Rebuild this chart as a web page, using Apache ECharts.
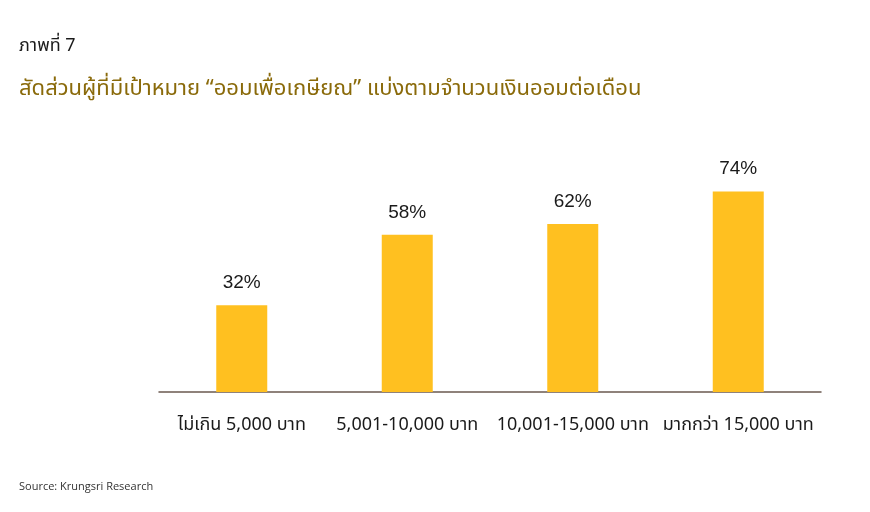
<!DOCTYPE html>
<html>
<head>
<meta charset="utf-8">
<script src="https://cdn.jsdelivr.net/npm/echarts@6/dist/echarts.min.js"></script>
<style>
html,body{margin:0;padding:0;background:#fff;}
#c{width:870px;height:512px;}
</style>
</head>
<body>
<div id="c"></div>
<script>
const categories = ['ไม่เกิน 5,000 บาท', '5,001-10,000 บาท', '10,001-15,000 บาท', 'มากกว่า 15,000 บาท'];
const values = [32, 58, 62, 74];

const chart = echarts.init(document.getElementById('c'));
const thaiFont = '"Noto Sans Thai", "Noto Sans", "DejaVu Sans", sans-serif';
chart.setOption({
  animation: false,
  backgroundColor: '#ffffff',
  title: [
    { text: 'ภาพที่ 7', left: 19, top: 38, padding: 0, textStyle: { fontSize: 18, fontWeight: 'normal', color: '#1a1a1a', fontFamily: thaiFont } },
    { text: 'สัดส่วนผู้ที่มีเป้าหมาย “ออมเพื่อเกษียณ” แบ่งตามจำนวนเงินออมต่อเดือน', left: 19, top: 80, padding: 0, textStyle: { fontSize: 22, fontWeight: 'normal', color: '#8a6a0a', fontFamily: thaiFont } },
    { text: 'Source: Krungsri Research', left: 19, top: 481, padding: 0, textStyle: { fontSize: 11, fontWeight: 'normal', color: '#333333', fontFamily: '"Open Sans", sans-serif' } }
  ],
  grid: { left: 159, right: 49, top: 121, bottom: 120, containLabel: false },
  xAxis: {
    type: 'category',
    data: categories,
    axisLine: { lineStyle: { color: '#6b5a50', width: 1.5 } },
    axisTick: { show: false },
    axisLabel: { color: '#1a1a1a', fontSize: 18, margin: 25, fontFamily: thaiFont, interval: 0 }
  },
  yAxis: {
    type: 'value', min: 0, max: 100,
    show: false,
    splitLine: { show: false }
  },
  series: [{
    type: 'bar',
    data: values,
    barWidth: 51,
    itemStyle: { color: '#ffc020' },
    label: {
      show: true, position: 'top', distance: 13,
      formatter: '{c}%', color: '#1a1a1a', fontSize: 19, fontFamily: '"Liberation Sans", Arial, sans-serif'
    }
  }]
});
</script>
</body>
</html>
